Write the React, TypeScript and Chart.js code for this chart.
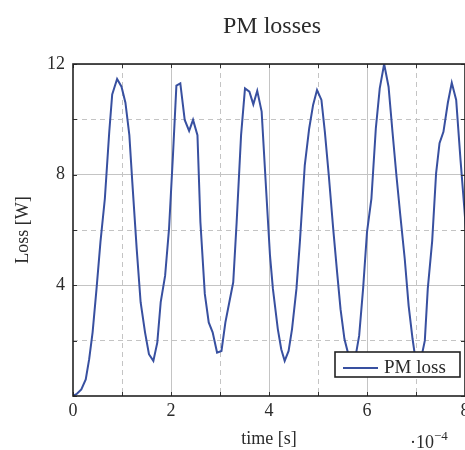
import React, { useEffect, useRef } from "react";
import { Chart, registerables } from "chart.js";

Chart.register(...registerables);

// time in units of 1e-4 s (axis shows the ·10^-4 multiplier)
const timeE4 = [
  0.0, 0.08, 0.17, 0.26, 0.33, 0.4, 0.48, 0.56, 0.65, 0.74, 0.8, 0.9, 0.99, 1.07, 1.15, 1.21,
  1.3, 1.38, 1.47, 1.55, 1.64, 1.72, 1.79, 1.88, 1.96, 2.04, 2.11, 2.19, 2.28, 2.37, 2.45, 2.54,
  2.6, 2.69, 2.77, 2.85, 2.94, 3.03, 3.11, 3.19, 3.27, 3.34, 3.43, 3.51, 3.6, 3.68, 3.76, 3.85,
  3.94, 4.02, 4.08, 4.18, 4.25, 4.32, 4.4, 4.47, 4.56, 4.63, 4.73, 4.82, 4.9, 4.98, 5.07, 5.14,
  5.22, 5.31, 5.39, 5.46, 5.54, 5.61, 5.7, 5.78, 5.84, 5.92, 6.0, 6.09, 6.18, 6.26, 6.35, 6.44,
  6.52, 6.6, 6.68, 6.77, 6.85, 6.93, 6.97, 7.05, 7.13, 7.18, 7.24, 7.33, 7.41, 7.48, 7.56, 7.65,
  7.73, 7.82, 7.91, 7.99, 8.07,
];

const pmLoss = [
  0.0, 0.08, 0.24, 0.6, 1.33, 2.3, 3.87, 5.56, 7.13, 9.55, 10.9, 11.46, 11.18, 10.6, 9.43, 7.74,
  5.32, 3.39, 2.3, 1.51, 1.27, 1.93, 3.39, 4.35, 6.05, 8.7, 11.22, 11.3, 9.98, 9.58, 9.98, 9.43,
  6.29, 3.69, 2.66, 2.3, 1.57, 1.63, 2.66, 3.39, 4.11, 6.29, 9.43, 11.12, 11.0, 10.54, 11.03, 10.28,
  7.5, 5.08, 3.87, 2.42, 1.69, 1.27, 1.63, 2.42, 3.87, 5.56, 8.34, 9.67, 10.52, 11.06, 10.7, 9.55,
  7.98, 6.05, 4.47, 3.14, 2.06, 1.57, 1.2, 1.57, 2.18, 3.87, 5.92, 7.13, 9.67, 11.12, 12.0, 11.18,
  9.55, 7.98, 6.53, 4.96, 3.26, 2.06, 1.57, 1.2, 1.57, 2.0, 3.87, 5.6, 8.05, 9.14, 9.55, 10.6,
  11.32, 10.7, 8.5, 6.7, 4.8,
];

const xTickLabels = [0, 2, 4, 6, 8];
const yTickLabels = [4, 8, 12];
const chartTitle = "PM losses";

const SERIF = "'Liberation Serif', 'DejaVu Serif', serif";
const TEXT = "#2b2b2b";
const LINE = "#3850a0";

const framePlugin = {
  id: "pgfFrame",
  afterDatasetsDraw(chart: any) {
    const { ctx, chartArea: a, scales } = chart;
    ctx.save();
    // inner tick marks
    ctx.strokeStyle = "#333";
    ctx.lineWidth = 1;
    ctx.setLineDash([]);
    scales.x.ticks.forEach((t: any) => {
      const px = Math.round(scales.x.getPixelForValue(t.value)) + 0.5;
      ctx.beginPath();
      ctx.moveTo(px, a.bottom);
      ctx.lineTo(px, a.bottom - 4);
      ctx.moveTo(px, a.top);
      ctx.lineTo(px, a.top + 4);
      ctx.stroke();
    });
    scales.y.ticks.forEach((t: any) => {
      const py = Math.round(scales.y.getPixelForValue(t.value)) + 0.5;
      ctx.beginPath();
      ctx.moveTo(a.left, py);
      ctx.lineTo(a.left + 4, py);
      ctx.moveTo(a.right, py);
      ctx.lineTo(a.right - 4, py);
      ctx.stroke();
    });
    // frame
    ctx.strokeStyle = "#222";
    ctx.lineWidth = 1.6;
    ctx.strokeRect(a.left, a.top, a.right - a.left, a.bottom - a.top);

    // legend box (south east, inside)
    const bw = 125;
    const bh = 25;
    const bx = a.right - 5 - bw;
    const by = a.bottom - 19 - bh;
    ctx.fillStyle = "#fff";
    ctx.fillRect(bx, by, bw, bh);
    ctx.strokeStyle = "#222";
    ctx.lineWidth = 1.6;
    ctx.strokeRect(bx, by, bw, bh);
    ctx.strokeStyle = LINE;
    ctx.lineWidth = 2;
    ctx.beginPath();
    ctx.moveTo(bx + 8, by + 16);
    ctx.lineTo(bx + 43, by + 16);
    ctx.stroke();
    ctx.fillStyle = TEXT;
    ctx.font = `19px ${SERIF}`;
    ctx.textAlign = "left";
    ctx.textBaseline = "alphabetic";
    ctx.fillText(chart.data.datasets[0].label, bx + 49, by + 20.5);

    // title centred over the plot
    ctx.font = `24px ${SERIF}`;
    ctx.textAlign = "center";
    ctx.fillText(chartTitle, (a.left + a.right) / 2 + 3, 33);

    // axis multiplier
    ctx.textAlign = "left";
    ctx.font = `18px ${SERIF}`;
    ctx.fillText("\u00b710", 410, 448);
    ctx.font = `13px ${SERIF}`;
    ctx.fillText("\u22124", 434, 440);
    ctx.restore();
  },
};

export default function App() {
  const ref = useRef<HTMLCanvasElement | null>(null);

  useEffect(() => {
    if (!ref.current) return;
    const gridColor = (ctx: any) => {
      const v = ctx.tick ? ctx.tick.value : null;
      if (v === null || v === 0) return "rgba(0,0,0,0)";
      return "#c4c4c4";
    };
    const chart = new Chart(ref.current, {
      type: "line",
      data: {
        datasets: [
          {
            label: "PM loss",
            data: timeE4.map((t, i) => ({ x: t, y: pmLoss[i] })),
            borderColor: LINE,
            borderWidth: 2,
            pointRadius: 0,
            tension: 0,
            fill: false,
          },
        ],
      },
      options: {
        animation: false,
        responsive: false,
        maintainAspectRatio: false,
        layout: { padding: { left: 0, right: 79, top: 64, bottom: 0 } },
        plugins: {
          legend: { display: false },
          tooltip: { enabled: false },
          title: { display: false },
        },
        scales: {
          x: {
            type: "linear",
            min: 0,
            max: 8,
            afterFit: (s: any) => {
              s.height = 54;
            },
            ticks: {
              stepSize: 1,
              padding: 4,
              color: TEXT,
              font: { family: SERIF, size: 18 },
              maxRotation: 0,
              autoSkip: false,
              callback: (v: any) => (xTickLabels.includes(Number(v)) ? String(v) : ""),
            },
            grid: {
              drawTicks: false,
              color: gridColor,
              lineWidth: 1,
            },
            border: {
              display: false,
              dash: (ctx: any) => (ctx.tick && ctx.tick.value % 2 !== 0 ? [5, 4] : []),
            },
            title: {
              display: true,
              text: "time [s]",
              color: TEXT,
              font: { family: SERIF, size: 18 },
              padding: { top: 0, bottom: 0 },
            },
          },
          y: {
            type: "linear",
            min: 0,
            max: 12,
            afterFit: (s: any) => {
              s.width = 73;
            },
            ticks: {
              stepSize: 2,
              padding: 8,
              color: TEXT,
              font: { family: SERIF, size: 18 },
              autoSkip: false,
              callback: (v: any) => (yTickLabels.includes(Number(v)) ? String(v) : ""),
            },
            grid: {
              drawTicks: false,
              color: gridColor,
              lineWidth: 1,
            },
            border: {
              display: false,
              dash: (ctx: any) => (ctx.tick && ctx.tick.value % 4 !== 0 ? [5, 4] : []),
            },
            title: {
              display: true,
              text: "Loss [W]",
              color: TEXT,
              font: { family: SERIF, size: 18 },
              padding: { top: 12, bottom: 0 },
            },
          },
        },
      },
      plugins: [framePlugin],
    });
    return () => chart.destroy();
  }, []);

  return (
    <div
      style={{
        position: "fixed",
        left: 0,
        top: 0,
        width: 465,
        height: 450,
        overflow: "hidden",
        background: "#fff",
      }}
    >
      <canvas ref={ref} width={544} height={450} style={{ display: "block", width: 544, height: 450 }} />
    </div>
  );
}
